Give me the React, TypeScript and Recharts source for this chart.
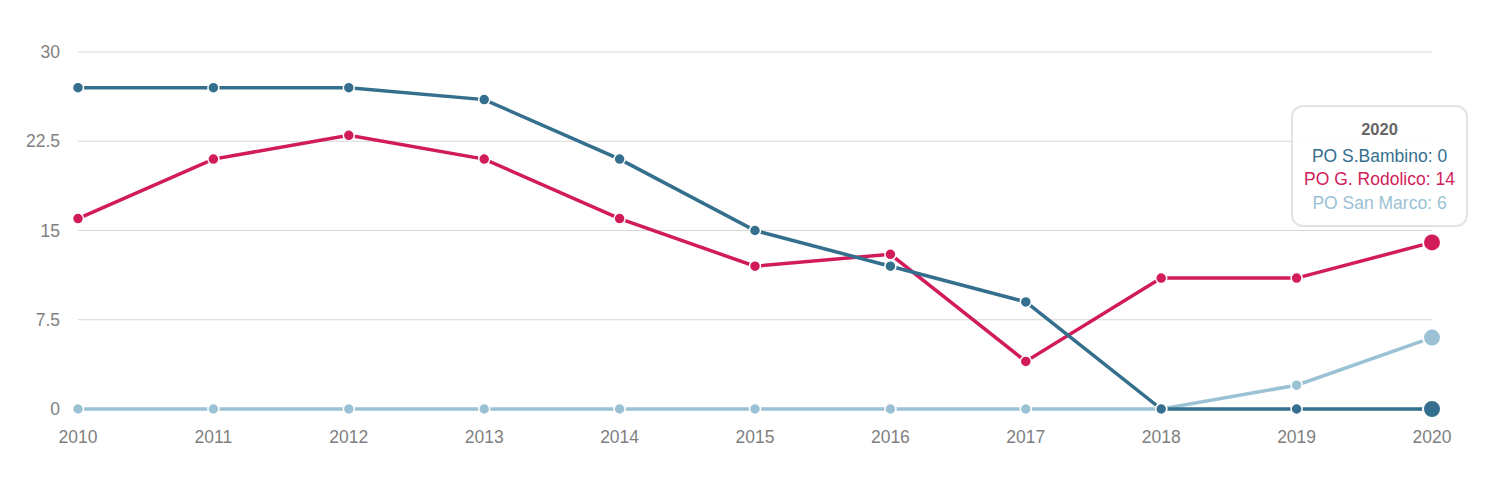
import React from "react";
import { LineChart, Line, XAxis, YAxis, CartesianGrid, Tooltip } from "recharts";

const years = ["2010", "2011", "2012", "2013", "2014", "2015", "2016", "2017", "2018", "2019", "2020"];
const bambino = [27, 27, 27, 26, 21, 15, 12, 9, 0, 0, 0];
const rodolico = [16, 21, 23, 21, 16, 12, 13, 4, 11, 11, 14];
const sanMarco = [0, 0, 0, 0, 0, 0, 0, 0, 0, 2, 6];
const yTicks = [0, 7.5, 15, 22.5, 30];

const seriesInfo = [
    { key: "bambino", name: "PO S.Bambino", color: "#346f8d" },
    { key: "rodolico", name: "PO G. Rodolico", color: "#d11b5a" },
    { key: "sanMarco", name: "PO San Marco", color: "#9bc2d4" },
];

const data = years.map((year, i) => ({
    year,
    bambino: bambino[i],
    rodolico: rodolico[i],
    sanMarco: sanMarco[i],
}));

const FONT = "'Liberation Sans', Arial, sans-serif";

const TipBox = ({ active, payload, label }: any) => {
    if (!active || !payload || payload.length === 0) return null;
    return (
        <div
            style={{
                width: 177,
                boxSizing: "border-box",
                background: "rgba(255,255,255,0.85)",
                border: "2px solid #e3e3e3",
                borderRadius: 12,
                padding: "11px 4px 10px",
                textAlign: "center",
                fontFamily: FONT,
                fontSize: 17.5,
                lineHeight: "23.5px",
            }}
        >
            <div style={{ fontWeight: "bold", color: "#666", fontSize: 16.5, marginBottom: 3 }}>{label}</div>
            {seriesInfo.map((s) => {
                const p = payload.find((it: any) => it.dataKey === s.key);
                return (
                    <div key={s.key} style={{ color: s.color, whiteSpace: "nowrap" }}>
                        {s.name}: {p ? p.value : ""}
                    </div>
                );
            })}
        </div>
    );
};

export default function App() {
    const drawOrder = [seriesInfo[2], seriesInfo[1], seriesInfo[0]];
    return (
        <div style={{ position: "absolute", left: 0, top: 0, background: "#fff" }}>
            <LineChart
                width={1500}
                height={482}
                data={data}
                margin={{ top: 52, right: 68, left: 0, bottom: 43 }}
            >
                <CartesianGrid vertical={false} stroke="#d6d6d6" />
                <XAxis
                    dataKey="year"
                    tickLine={false}
                    axisLine={false}
                    height={30}
                    tickMargin={16}
                    interval={0}
                    tick={{ fill: "#7f7f7f", fontSize: 17.5, fontFamily: FONT }}
                />
                <YAxis
                    width={78}
                    domain={[0, 30]}
                    ticks={yTicks}
                    tickLine={false}
                    axisLine={false}
                    tickMargin={12}
                    tick={{ fill: "#7f7f7f", fontSize: 17.5, fontFamily: FONT }}
                />
                <Tooltip
                    content={<TipBox />}
                    defaultIndex={10}
                    active
                    cursor={false}
                    position={{ x: 1291, y: 105 }}
                    isAnimationActive={false}
                    wrapperStyle={{ outline: "none" }}
                />
                {drawOrder.map((s) => (
                    <Line
                        key={s.key}
                        type="linear"
                        dataKey={s.key}
                        name={s.name}
                        stroke={s.color}
                        strokeWidth={3.5}
                        dot={{ r: 5.5, fill: s.color, stroke: "#fff", strokeWidth: 1.5 }}
                        activeDot={{ r: 9, fill: s.color, stroke: "#fff", strokeWidth: 2 }}
                        isAnimationActive={false}
                    />
                ))}
            </LineChart>
        </div>
    );
}
